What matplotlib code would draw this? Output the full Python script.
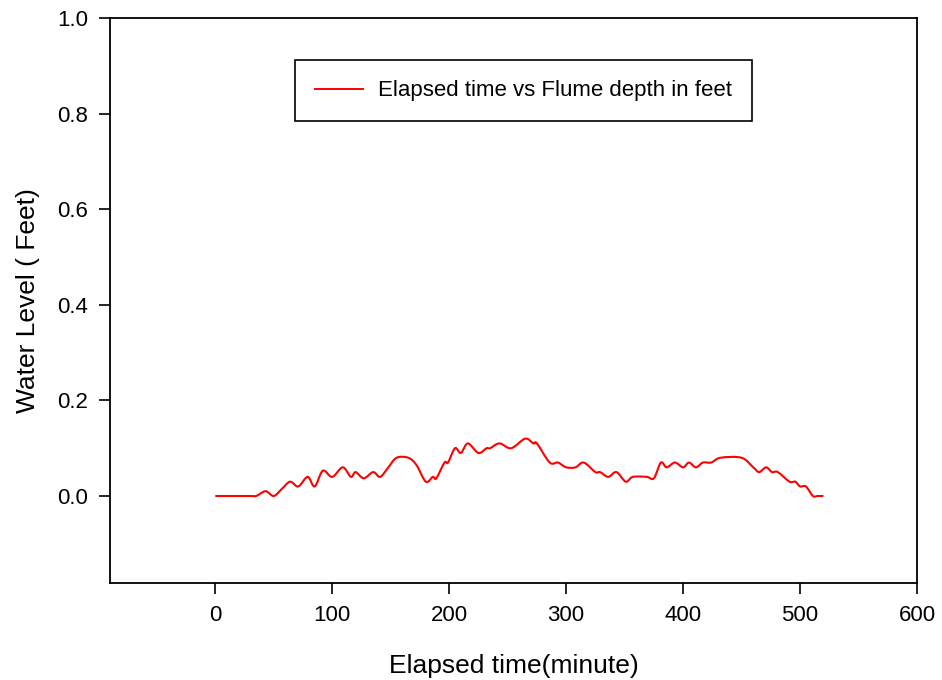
import matplotlib
matplotlib.use("Agg")
import matplotlib.pyplot as plt
import numpy as np
from matplotlib.path import Path
from matplotlib.patches import PathPatch
from matplotlib.lines import Line2D

plt.rcParams['font.family'] = ['Liberation Sans', 'DejaVu Sans']

time_min = [0, 30, 35, 43, 50, 57, 64, 71, 79, 85, 92, 100, 109, 116, 120, 127,
            135, 141, 148, 155, 165, 172, 180, 186, 189, 196, 199, 205, 210, 216,
            225, 232, 235, 243, 253, 265, 272, 275, 286, 293, 300, 308, 315, 325,
            329, 336, 343, 351, 357, 369, 375, 381, 386, 393, 400, 405, 411, 417,
            424, 432, 450, 460, 465, 471, 476, 481, 491, 496, 500, 505, 511, 515, 520]
depth_ft = [0.0, 0.0, 0.0, 0.01, 0.0, 0.015, 0.03, 0.02, 0.04, 0.02, 0.053, 0.04, 0.06, 0.04, 0.05, 0.037,
            0.05, 0.04, 0.06, 0.08, 0.08, 0.065, 0.03, 0.04, 0.037, 0.07, 0.07, 0.10, 0.09, 0.11,
            0.09, 0.10, 0.10, 0.11, 0.10, 0.12, 0.11, 0.11, 0.07, 0.07, 0.06, 0.06, 0.07, 0.05,
            0.05, 0.04, 0.05, 0.03, 0.04, 0.04, 0.037, 0.07, 0.06, 0.07, 0.06, 0.07, 0.06, 0.07,
            0.07, 0.08, 0.08, 0.06, 0.05, 0.06, 0.05, 0.05, 0.03, 0.03, 0.02, 0.02, 0.0, 0.0, 0.0]

x_ticks = [0, 100, 200, 300, 400, 500, 600]
y_ticks = [0.0, 0.2, 0.4, 0.6, 0.8, 1.0]
series_label = 'Elapsed time vs Flume depth in feet'

fig = plt.figure(figsize=(9.42, 6.8), dpi=100)
ax = fig.add_axes([110/942, 1-583/680, 807/942, 565/680])

# smooth (spline-style) curve through the data points, drawn in data coordinates
P = np.column_stack([time_min, depth_ft]).astype(float)
ext = np.vstack([P[0], P, P[-1]])
verts = [tuple(P[0])]
codes = [Path.MOVETO]
for i in range(1, len(ext) - 2):
    p0, p1, p2, p3 = ext[i - 1], ext[i], ext[i + 1], ext[i + 2]
    c1 = p1 + (p2 - p0) / 6.0
    c2 = p2 - (p3 - p1) / 6.0
    verts += [tuple(c1), tuple(c2), tuple(p2)]
    codes += [Path.CURVE4] * 3
curve = PathPatch(Path(verts, codes), facecolor='none', edgecolor='red',
                  lw=1.5, transform=ax.transData, joinstyle='round')
ax.add_patch(curve)

ax.set_xlim(-90, 600)
ax.set_ylim(-0.182, 1.0)
ax.set_xticks(x_ticks)
ax.set_xticklabels([str(t) for t in x_ticks])
ax.set_yticks(y_ticks)
ax.set_yticklabels([f"{v:.1f}" for v in y_ticks])
ax.tick_params(direction='out', length=8, width=1.2, labelsize=16, pad=8)
for s in ax.spines.values():
    s.set_linewidth(1.3)

ax.set_xlabel('Elapsed time(minute)', fontsize=19, labelpad=20)
ax.set_ylabel('Water Level ( Feet)', fontsize=19, labelpad=12)

handle = Line2D([], [], color='red', lw=1.4)
leg = ax.legend([handle], [series_label], loc='center', bbox_to_anchor=(0.512, 0.871),
                fontsize=16, fancybox=False, framealpha=1, edgecolor='black',
                borderpad=0.9, handlelength=2.2, handletextpad=0.65,
                borderaxespad=0)
leg.get_frame().set_linewidth(1.2)

fig.savefig('out.png', dpi=100)
